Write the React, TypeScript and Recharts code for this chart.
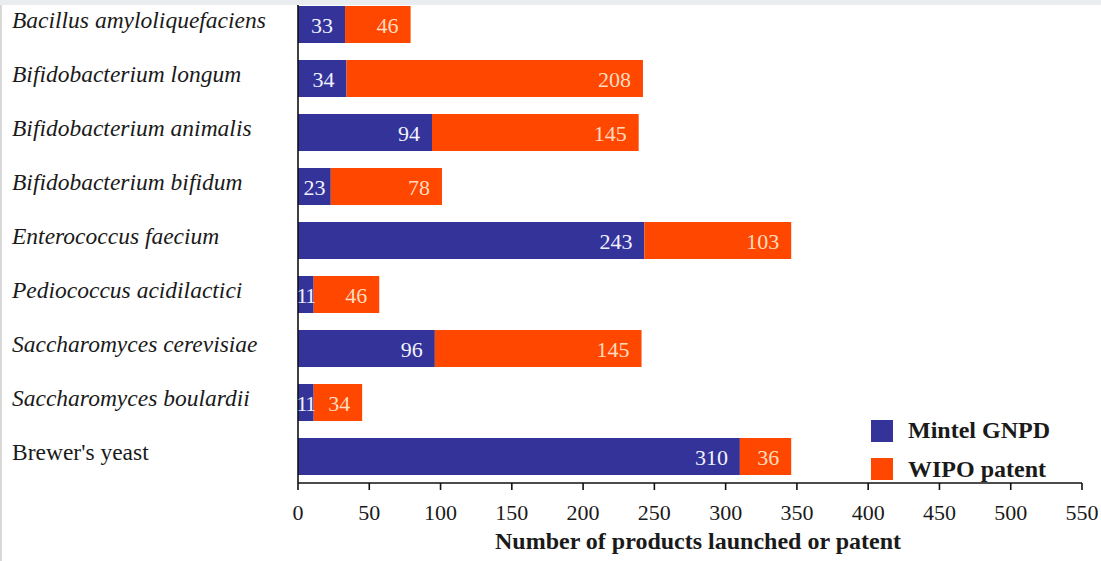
import React from "react";
import { BarChart, Bar, XAxis, YAxis, Legend, LabelList } from "recharts";

// Probiotic strains, top to bottom
const categories = [
  "Bacillus amyloliquefaciens",
  "Bifidobacterium longum",
  "Bifidobacterium animalis",
  "Bifidobacterium bifidum",
  "Enterococcus faecium",
  "Pediococcus acidilactici",
  "Saccharomyces cerevisiae",
  "Saccharomyces boulardii",
  "Brewer's yeast",
];
const mintelGnpd = [33, 34, 94, 23, 243, 11, 96, 11, 310];
const wipoPatent = [46, 208, 145, 78, 103, 46, 145, 34, 36];
const xTicks = [0, 50, 100, 150, 200, 250, 300, 350, 400, 450, 500, 550];
const uprightCategories = ["Brewer's yeast"];

const data = categories.map((name, i) => ({
  name,
  mintel: mintelGnpd[i],
  wipo: wipoPatent[i],
}));

const SERIF = '"Liberation Serif", "Times New Roman", serif';
const BLUE = "#333399";
const ORANGE = "#ff4700";

const CategoryTick = (props: any) => {
  const { y, payload } = props;
  const upright = uprightCategories.includes(payload.value);
  return (
    <text
      x={12}
      y={y + 4}
      textAnchor="start"
      fontFamily={SERIF}
      fontSize={23.5}
      fontStyle={upright ? "normal" : "italic"}
      fill="#1a1a1a"
    >
      {payload.value}
    </text>
  );
};

const ValueTick = (props: any) => {
  const { x, y, payload } = props;
  return (
    <text x={x} y={y + 28} textAnchor="middle" fontFamily={SERIF} fontSize={22} fill="#1a1a1a">
      {payload.value}
    </text>
  );
};

const makeSegmentLabel = (color: string) => (props: any) => {
  const { x, y, width, height, value } = props;
  const textW = String(value).length * 11;
  const pad = Math.max(-1, Math.min(12, (width - textW) / 2));
  return (
    <text
      x={x + width - pad}
      y={y + height / 2 + 8}
      textAnchor="end"
      fontFamily={SERIF}
      fontSize={22}
      letterSpacing={width < textW ? -1.5 : 0}
      fill={color}
    >
      {value}
    </text>
  );
};

const AxisTitle = (props: any) => {
  const { viewBox } = props;
  return (
    <text
      x={viewBox.x + viewBox.width / 2 + 8}
      y={viewBox.y + 66}
      textAnchor="middle"
      fontFamily={SERIF}
      fontSize={24}
      fontWeight="bold"
      fill="#1a1a1a"
    >
      Number of products launched or patent
    </text>
  );
};

const LegendBox = (props: any) => {
  const { payload } = props;
  return (
    <div style={{ fontFamily: SERIF, fontSize: 24, fontWeight: "bold", color: "#1a1a1a" }}>
      {(payload || []).map((entry: any) => (
        <div key={entry.value} style={{ display: "flex", alignItems: "center", height: 38.5 }}>
          <div style={{ width: 22, height: 22, background: entry.color, marginRight: 15 }} />
          <span style={{ whiteSpace: "nowrap" }}>{entry.value}</span>
        </div>
      ))}
    </div>
  );
};

export default function App() {
  return (
    <div
      style={{
        position: "absolute",
        left: 0,
        top: 0,
        width: 1101,
        height: 561,
        overflow: "hidden",
        background: "#ffffff",
      }}
    >
      <div style={{ position: "absolute", left: 0, top: -3 }}>
        <BarChart
          width={1101}
          height={564}
          data={data}
          layout="vertical"
          margin={{ top: 0, right: 19, bottom: 0, left: 0 }}
          barSize={37}
        >
          <XAxis
            type="number"
            domain={[0, 550]}
            ticks={xTicks}
            height={78}
            axisLine={{ stroke: "#111", strokeWidth: 1.6 }}
            tickLine={{ stroke: "#111", strokeWidth: 1.6 }}
            tickSize={7}
            tick={<ValueTick />}
            interval={0}
            label={<AxisTitle />}
          />
          <YAxis
            type="category"
            dataKey="name"
            width={298}
            axisLine={{ stroke: "#111", strokeWidth: 1.6 }}
            tickLine={false}
            tick={<CategoryTick />}
            interval={0}
          />
          <Legend
            layout="horizontal"
            verticalAlign="middle"
            align="center"
            content={<LegendBox />}
            wrapperStyle={{ position: "absolute", left: 871, top: 414.5, width: "auto" }}
          />
          <Bar dataKey="mintel" name="Mintel GNPD" stackId="s" fill={BLUE} isAnimationActive={false}>
            <LabelList dataKey="mintel" content={makeSegmentLabel("#f2f2ff")} />
          </Bar>
          <Bar dataKey="wipo" name="WIPO patent" stackId="s" fill={ORANGE} isAnimationActive={false}>
            <LabelList dataKey="wipo" content={makeSegmentLabel("#ffdcc0")} />
          </Bar>
        </BarChart>
      </div>
      <div
        style={{
          position: "absolute",
          left: 0,
          top: 0,
          width: 1101,
          height: 5,
          background: "#e9edf0",
        }}
      />
      <div
        style={{
          position: "absolute",
          left: 0,
          top: 5,
          width: 2,
          height: 556,
          background: "#d9d9d9",
        }}
      />
    </div>
  );
}
